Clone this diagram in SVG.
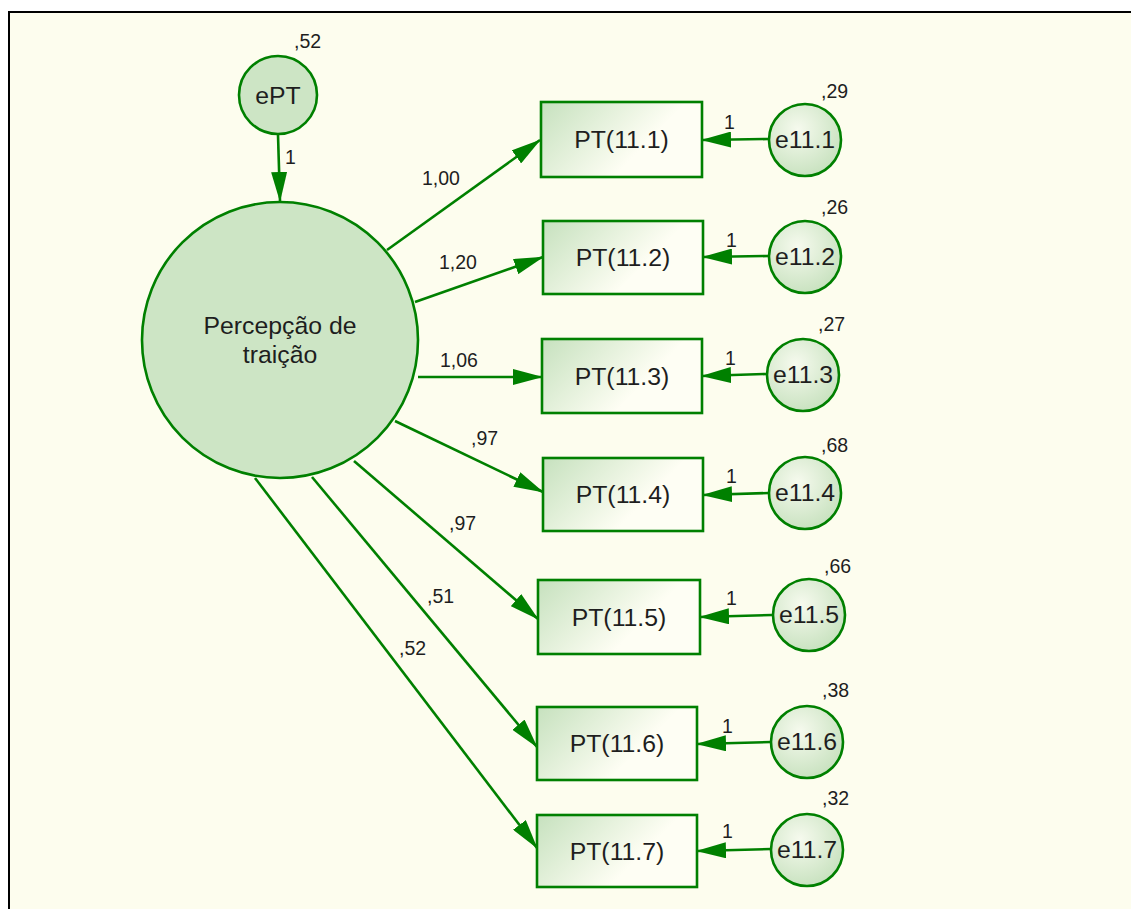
<svg xmlns="http://www.w3.org/2000/svg" width="1131" height="909" viewBox="0 0 1131 909">
<defs>
<style>
.ln{stroke:#008000;stroke-width:2.6;fill:none;marker-end:url(#ah)}
.big{fill:#cde5c5;stroke:#008000;stroke-width:2.6}
.box{fill:url(#bg);stroke:#008000;stroke-width:2.6}
.err{fill:url(#eg);stroke:#008000;stroke-width:2.6}
.t{font-family:"Liberation Sans",Arial,sans-serif;font-size:24.8px;fill:#1e1e1e;text-anchor:middle}
.n{font-family:"Liberation Sans",Arial,sans-serif;font-size:19.5px;fill:#1e1e1e}
</style>
<marker id="ah" markerUnits="userSpaceOnUse" markerWidth="30" markerHeight="16" refX="29" refY="8" orient="auto">
<path d="M0,0 L30,8 L0,16 z" fill="#008000"/>
</marker>
<linearGradient id="bg" x1="0" y1="0" x2="1" y2="0.45">
<stop offset="0" stop-color="#c6e1be"/>
<stop offset="0.75" stop-color="#fefef4"/>
<stop offset="1" stop-color="#fefef4"/>
</linearGradient>
<radialGradient id="eg" cx="0.4" cy="0.35" r="0.75">
<stop offset="0" stop-color="#f6faee"/>
<stop offset="1" stop-color="#c3dfba"/>
</radialGradient>
</defs>
<rect x="0" y="0" width="1131" height="909" fill="#ffffff"/>
<rect x="9" y="12" width="1200" height="1000" fill="#fdfdee" stroke="#000" stroke-width="2"/>

<g id="connectors">
<line class="ln" x1="278" y1="135" x2="280" y2="201"/>
<line class="ln" x1="387" y1="250" x2="540" y2="140"/>
<line class="ln" x1="415" y1="302" x2="543" y2="257"/>
<line class="ln" x1="418" y1="377" x2="542" y2="377"/>
<line class="ln" x1="395" y1="421" x2="543" y2="492"/>
<line class="ln" x1="354" y1="461" x2="538" y2="619"/>
<line class="ln" x1="312" y1="477" x2="537" y2="747"/>
<line class="ln" x1="255" y1="478" x2="537" y2="848"/>
<line class="ln" x1="768" y1="139" x2="702" y2="140"/>
<line class="ln" x1="768" y1="256" x2="703" y2="257"/>
<line class="ln" x1="766" y1="374" x2="702" y2="376"/>
<line class="ln" x1="769" y1="493" x2="703" y2="495"/>
<line class="ln" x1="772" y1="615" x2="700" y2="617"/>
<line class="ln" x1="771" y1="742" x2="697" y2="744"/>
<line class="ln" x1="771" y1="849" x2="697" y2="851"/>
<text class="n" x="285" y="164">1</text>
<text class="n" x="422" y="185">1,00</text>
<text class="n" x="439" y="269">1,20</text>
<text class="n" x="440" y="367">1,06</text>
<text class="n" x="471" y="445">,97</text>
<text class="n" x="449" y="530">,97</text>
<text class="n" x="427" y="603">,51</text>
<text class="n" x="399" y="655">,52</text>
<text class="n" x="724" y="129">1</text>
<text class="n" x="726" y="247">1</text>
<text class="n" x="725" y="365">1</text>
<text class="n" x="726" y="483">1</text>
<text class="n" x="726" y="605">1</text>
<text class="n" x="722" y="733">1</text>
<text class="n" x="722" y="838">1</text>
</g>

<g id="ePT">
<circle class="big" cx="278" cy="95" r="39"/>
<text class="t" x="278" y="104">ePT</text>
<text class="n" x="294" y="48">,52</text>
</g>

<g id="PT">
<circle class="big" cx="280" cy="340" r="138"/>
<text class="t" x="280" y="334">Percepção de</text>
<text class="t" x="280" y="363">traição</text>
</g>

<g id="PT11_1"><rect class="box" x="541" y="102" width="161" height="75"/><text class="t" x="621.5" y="148">PT(11.1)</text></g>
<g id="PT11_2"><rect class="box" x="543" y="221" width="160" height="73"/><text class="t" x="623" y="266">PT(11.2)</text></g>
<g id="PT11_3"><rect class="box" x="542" y="339" width="160" height="74"/><text class="t" x="622" y="385">PT(11.3)</text></g>
<g id="PT11_4"><rect class="box" x="543" y="458" width="160" height="73"/><text class="t" x="623" y="503">PT(11.4)</text></g>
<g id="PT11_5"><rect class="box" x="538" y="580" width="162" height="74"/><text class="t" x="619" y="626">PT(11.5)</text></g>
<g id="PT11_6"><rect class="box" x="537" y="707" width="160" height="73"/><text class="t" x="617" y="752">PT(11.6)</text></g>
<g id="PT11_7"><rect class="box" x="537" y="815" width="160" height="72"/><text class="t" x="617" y="860">PT(11.7)</text></g>

<g id="e11_1"><circle class="err" cx="805" cy="140" r="36"/><text class="t" x="805" y="148">e11.1</text><text class="n" x="821" y="98">,29</text></g>
<g id="e11_2"><circle class="err" cx="805" cy="257" r="36"/><text class="t" x="805" y="265">e11.2</text><text class="n" x="821" y="214">,26</text></g>
<g id="e11_3"><circle class="err" cx="803" cy="375" r="36"/><text class="t" x="803" y="383">e11.3</text><text class="n" x="818" y="331">,27</text></g>
<g id="e11_4"><circle class="err" cx="805" cy="493" r="36"/><text class="t" x="805" y="501">e11.4</text><text class="n" x="821" y="452">,68</text></g>
<g id="e11_5"><circle class="err" cx="809" cy="615" r="36"/><text class="t" x="809" y="623">e11.5</text><text class="n" x="824" y="573">,66</text></g>
<g id="e11_6"><circle class="err" cx="807" cy="742" r="36"/><text class="t" x="807" y="750">e11.6</text><text class="n" x="822" y="697">,38</text></g>
<g id="e11_7"><circle class="err" cx="807" cy="850" r="36"/><text class="t" x="807" y="858">e11.7</text><text class="n" x="822" y="805">,32</text></g>
</svg>
